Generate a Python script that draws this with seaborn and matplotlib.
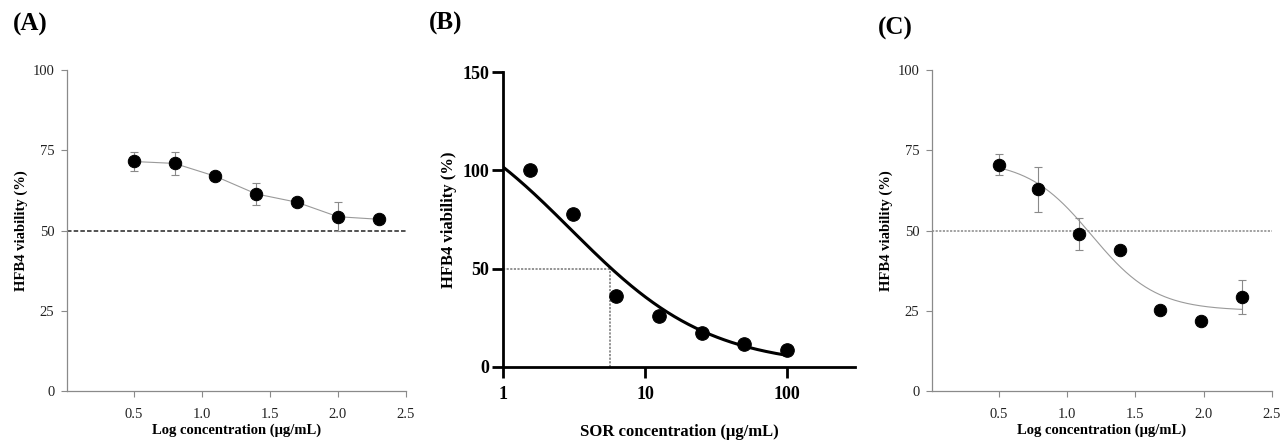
import numpy as np
import pandas as pd
import matplotlib.pyplot as plt
import seaborn as sns

sns.set_style("ticks")
plt.rcParams['font.family'] = ['Liberation Serif', 'DejaVu Serif']
plt.rcParams['text.color'] = 'black'
plt.rcParams['axes.labelcolor'] = 'black'

# (A) log concentration vs viability
a_logc = [0.5, 0.8, 1.1, 1.4, 1.7, 2.0, 2.3]
a_viab = [71.5, 70.9, 66.9, 61.4, 58.8, 54.3, 53.5]
a_err = [3.0, 3.7, 0.5, 3.3, 0.5, 4.5, 1.2]

# (B) SOR concentration vs viability, with fitted dose-response curve
b_conc = [1.5625, 3.125, 6.25, 12.5, 25, 50, 100]
b_viab = [100, 78, 36, 25.8, 17.3, 11.9, 8.5]
b_top, b_bottom, b_mid, b_hill = 140, 0, 3.0, 0.89
b_ic50 = 5.7

# (C) log concentration vs viability, with fitted sigmoid
c_logc = [0.5, 0.79, 1.09, 1.39, 1.68, 1.98, 2.28]
c_viab = [70.5, 62.9, 48.8, 43.9, 25.2, 21.7, 29.3]
c_err = [3.2, 7.0, 5.0, 0.5, 0.5, 0.5, 5.4]
c_top, c_bottom, c_mid, c_hill = 72, 25, 1.18, 1.85

df_a = pd.DataFrame({'logc': a_logc, 'viab': a_viab})
df_b = pd.DataFrame({'conc': b_conc, 'viab': b_viab})
df_c = pd.DataFrame({'logc': c_logc, 'viab': c_viab})

fig = plt.figure(figsize=(12.83, 4.42), dpi=100)

grey = '#8a8a8a'


def style_thin(ax):
    sns.despine(ax=ax)
    for s in ['left', 'bottom']:
        ax.spines[s].set_color(grey)
        ax.spines[s].set_linewidth(0.9)
    ax.set_ylim(0, 100)
    ax.set_xlim(0.01, 2.5)
    ax.set_yticks([0, 25, 50, 75, 100])
    ax.set_xticks([0.5, 1.0, 1.5, 2.0, 2.5])
    ax.tick_params(axis='both', color=grey, width=0.8, length=4,
                   labelsize=10.5, labelcolor='#222222')
    ax.tick_params(axis='y', pad=5)
    ax.tick_params(axis='x', pad=8)


# ---- panel A ----
ax_a = fig.add_axes([0.0522, 0.1154, 0.2642, 0.7262])
style_thin(ax_a)
ax_a.axhline(50, color='#444444', lw=1.3, ls=(0, (2.5, 1.2)), zorder=1)
sns.lineplot(data=df_a, x='logc', y='viab', ax=ax_a, color='#9a9a9a', lw=0.8, zorder=2)
ax_a.errorbar(a_logc, a_viab, yerr=a_err, fmt='none', ecolor='#8a8a8a',
              elinewidth=0.8, capsize=3.2, capthick=0.8, zorder=2)
sns.scatterplot(data=df_a, x='logc', y='viab', ax=ax_a, color='black', s=80,
                edgecolor='black', zorder=3)
ax_a.set_xlabel('Log concentration (μg/mL)', fontsize=10.5, fontweight='bold', labelpad=2)
ax_a.set_ylabel('HFB4 viability (%)', fontsize=10.5, fontweight='bold', labelpad=3)

# ---- panel B ----
ax_b = fig.add_axes([0.392, 0.1697, 0.2744, 0.6674])
sns.despine(ax=ax_b)
for s in ['left', 'bottom']:
    ax_b.spines[s].set_color('black')
    ax_b.spines[s].set_linewidth(2.0)
ax_b.set_xscale('log')
ax_b.set_xlim(1, 300)
ax_b.set_ylim(0, 150)
ax_b.set_yticks([0, 50, 100, 150])
ax_b.set_xticks([1, 10, 100])
ax_b.set_xticklabels(['1', '10', '100'])
ax_b.minorticks_off()
ax_b.tick_params(axis='both', color='black', width=2.0, length=8, labelsize=13,
                 labelcolor='black')
ax_b.tick_params(axis='y', pad=2)
ax_b.tick_params(axis='x', pad=6)
for lab in ax_b.get_xticklabels() + ax_b.get_yticklabels():
    lab.set_fontweight('bold')

fit_x = np.logspace(0, 2, 200)
fit_y = b_bottom + (b_top - b_bottom) / (1 + (fit_x / b_mid) ** b_hill)
sns.lineplot(x=fit_x, y=fit_y, ax=ax_b, color='black', lw=2.2, zorder=2)
ax_b.plot([1, b_ic50], [50, 50], color='#8a8a8a', lw=1.3, ls=(0, (1.2, 0.8)), zorder=1)
ax_b.plot([b_ic50, b_ic50], [0, 50], color='#8a8a8a', lw=1.3, ls=(0, (1.2, 0.8)), zorder=1)
sns.scatterplot(data=df_b, x='conc', y='viab', ax=ax_b, color='black', s=95,
                edgecolor='black', zorder=3, clip_on=False)
ax_b.set_xlabel('SOR concentration (μg/mL)', fontsize=12, fontweight='bold', labelpad=15)
ax_b.set_ylabel('HFB4 viability (%)', fontsize=12, fontweight='bold', labelpad=4)

# ---- panel C ----
ax_c = fig.add_axes([0.7264, 0.1154, 0.265, 0.7262])
style_thin(ax_c)
ax_c.axhline(50, color='#9a9a9a', lw=1.3, ls=(0, (1.2, 0.8)), zorder=1)
fit_xc = np.linspace(c_logc[0], c_logc[-1], 200)
fit_yc = c_bottom + (c_top - c_bottom) / (1 + 10 ** ((fit_xc - c_mid) * c_hill))
sns.lineplot(x=fit_xc, y=fit_yc, ax=ax_c, color='#9a9a9a', lw=0.8, zorder=2)
ax_c.errorbar(c_logc, c_viab, yerr=c_err, fmt='none', ecolor='#8a8a8a',
              elinewidth=0.8, capsize=3.2, capthick=0.8, zorder=2)
sns.scatterplot(data=df_c, x='logc', y='viab', ax=ax_c, color='black', s=80,
                edgecolor='black', zorder=3)
ax_c.set_xlabel('Log concentration (μg/mL)', fontsize=10.5, fontweight='bold', labelpad=2)
ax_c.set_ylabel('HFB4 viability (%)', fontsize=10.5, fontweight='bold', labelpad=3)

# panel letters
fig.text(0.010, 0.945, '(A)', fontsize=18, fontweight='bold', va='center', ha='left')
fig.text(0.334, 0.948, '(B)', fontsize=18, fontweight='bold', va='center', ha='left')
fig.text(0.684, 0.935, '(C)', fontsize=18, fontweight='bold', va='center', ha='left')

fig.savefig('out.png', dpi=100)
